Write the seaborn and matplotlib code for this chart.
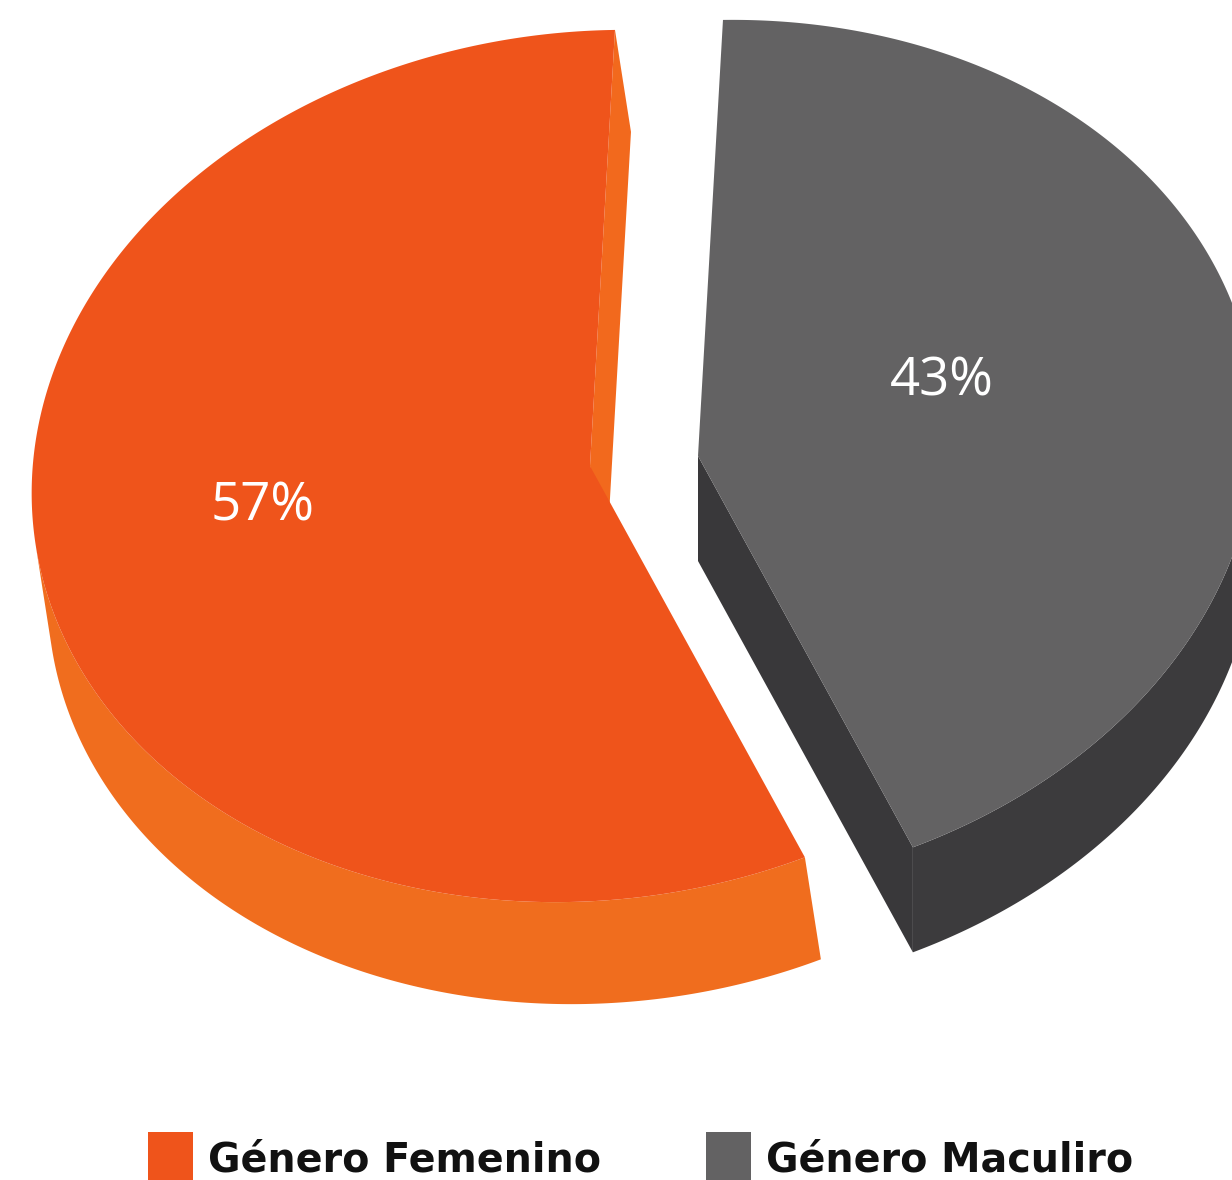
import numpy as np
import matplotlib
matplotlib.use("Agg")
import matplotlib.pyplot as plt
from matplotlib.patches import Polygon, Rectangle
import seaborn as sns

# ---- data -------------------------------------------------------------
categories = ["Género Femenino", "Género Maculiro"]
shares = [57, 43]
value_labels = ["57%", "43%"]

# ---- styling ----------------------------------------------------------
top_colors = sns.color_palette(["#EF541B", "#636263"])
side_colors = sns.color_palette(["#F06D1E", "#3C3B3D"])
cut_colors = sns.color_palette(["#F2691D", "#39383A"])

sns.set_theme(style="white")
plt.rcParams["font.family"] = ["DejaVu Sans"]

W, H = 1232, 1180
fig = plt.figure(figsize=(W / 100, H / 100), dpi=100)
ax = fig.add_axes([0, 0, 1, 1])
ax.set_xlim(0, W)
ax.set_ylim(H, 0)
ax.axis("off")

# ---- tilted 3D pie geometry ------------------------------------------
center = np.array([590.0, 466.0])
a, b = 560.0, 434.0            # projected semi-axes of the disc
tilt = np.deg2rad(7.0)         # in-plane rotation of the view
# screen offset from top face to bottom face, per slice
extrude = [np.array([16.0, 102.0]), np.array([0.0, 105.0])]
start = 82.0                   # angle where the first slice begins
# pulled-out distance of each slice, in screen pixels
explode_shift = [np.array([0.0, 0.0]), np.array([108.0, -10.0])]
# label placement: (radius fraction, angular nudge from the slice middle)
label_pos = [(0.59, -4.5), (0.46, 8.0)]


def proj(theta_deg, r=1.0, z=0.0, offset=(0.0, 0.0), ext=(0.0, 0.0)):
    t = np.deg2rad(np.atleast_1d(theta_deg).astype(float))
    u = a * r * np.cos(t)
    v = b * r * np.sin(t)
    xp = u * np.cos(tilt) - v * np.sin(tilt)
    yp = u * np.sin(tilt) + v * np.cos(tilt)
    X = center[0] + offset[0] + xp + z * ext[0]
    Y = center[1] + offset[1] - yp + z * ext[1]
    return np.column_stack([X, Y])


def apex(z=0.0, offset=(0.0, 0.0), ext=(0.0, 0.0)):
    return np.array([[center[0] + offset[0] + z * ext[0],
                      center[1] + offset[1] + z * ext[1]]])


def outward_normal(theta_deg):
    """Screen-space outward normal of the rim at the given angles."""
    p = proj(theta_deg) - center
    d = proj(np.atleast_1d(theta_deg) + 0.01) - proj(np.atleast_1d(theta_deg) - 0.01)
    n = np.column_stack([d[:, 1], -d[:, 0]])
    sgn = np.sign(np.sum(n * p, axis=1))[:, None]
    return n * sgn


spans = 360.0 * np.array(shares) / np.sum(shares)
bounds = start + np.concatenate([[0], np.cumsum(spans)])

zorder_base = {1: 1, 0: 10}
for i in range(len(shares)):
    t0, t1 = bounds[i], bounds[i + 1]
    mid = 0.5 * (t0 + t1)
    off = explode_shift[i]
    zb = zorder_base[i]
    ext = extrude[i]

    # radial cut faces that turn toward the viewer
    for th, side in ((t0, -1.0), (t1, 1.0)):
        e = (proj(th) - center)[0]
        n = side * np.array([e[1], -e[0]])   # points away from slice interior
        inside = (proj(mid) - center)[0]
        if np.dot(n, inside) > 0:
            n = -n
        if np.dot(n, ext) > 0:
            pts = np.vstack([apex(0, off, ext), proj(th, 1, 0, off, ext),
                             proj(th, 1, 1, off, ext), apex(1, off, ext)])
            ax.add_patch(Polygon(pts, closed=True, facecolor=cut_colors[i],
                                 edgecolor="none", zorder=zb))

    # outer rim where it faces the viewer
    th = np.linspace(t0, t1, 800)
    front = outward_normal(th) @ ext > 0
    if front.any():
        idx = np.where(front)[0]
        runs = np.split(idx, np.where(np.diff(idx) > 1)[0] + 1)
        for run in runs:
            ths = th[run]
            pts = np.vstack([proj(ths, 1, 0, off, ext),
                             proj(ths[::-1], 1, 1, off, ext)])
            ax.add_patch(Polygon(pts, closed=True, facecolor=side_colors[i],
                                 edgecolor="none", zorder=zb + 1))

    # top face
    pts = np.vstack([apex(0, off), proj(th, 1, 0, off)])
    ax.add_patch(Polygon(pts, closed=True, facecolor=top_colors[i],
                         edgecolor="none", zorder=zb + 2))

    # value label
    lab_r, nudge = label_pos[i]
    lx, ly = proj(mid + nudge, lab_r, 0, off)[0]
    ax.text(lx, ly, value_labels[i], color="white", fontsize=38,
            family=["Open Sans", "DejaVu Sans"], fontweight="medium",
            ha="center", va="center", zorder=zb + 3)

# ---- legend ------------------------------------------------------------
legend_x = [148, 706]
for i, name in enumerate(categories):
    x0 = legend_x[i]
    ax.add_patch(Rectangle((x0, 1132), 45, 60, facecolor=top_colors[i],
                           edgecolor="none", zorder=20, clip_on=False))
    ax.text(x0 + 60, 1172, name, color="#111111", fontsize=28.5,
            fontweight="bold", ha="left", va="baseline", zorder=20)

fig.savefig("out.png", dpi=100, facecolor="white")
